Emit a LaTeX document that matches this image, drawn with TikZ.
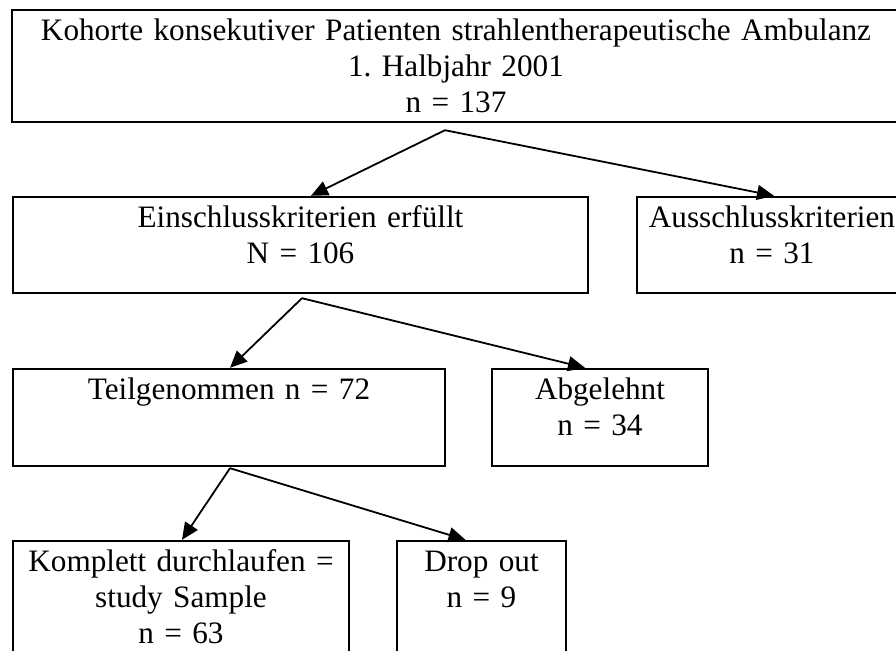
\documentclass[tikz,border=0pt]{standalone}
\usepackage{fontspec}
\setmainfont{Liberation Serif}
\usetikzlibrary{arrows.meta}
\tikzset{
    objBox/.style={rectangle, draw=black, line width=1.2pt, inner sep=0pt, text centered, align=center, text height=15pt},
    arrow/.style={line width=0.9pt, -{Triangle[length=8.5pt, width=7.5pt]}}
}
\begin{document}
\begin{tikzpicture}[node distance=88pt, font=\fontsize{15.6pt}{18pt}\selectfont]
    \useasboundingbox (-228pt,-292pt) rectangle (220pt,33pt);
    \clip (-228pt,-292pt) rectangle (220pt,33pt);

    \node (top) [objBox, text width=444pt, text depth=41pt] {Kohorte konsekutiver Patienten strahlentherapeutische Ambulanz\\ 1.\ Halbjahr 2001\\ n = 137};

    \node (ein) [objBox, text width=287.5pt, text depth=33pt, below of=top, xshift=-77.75pt, yshift=-1.5pt] {Einschlusskriterien erfüllt\\ N = 106};
    \node (aus) [objBox, text width=135pt, text depth=33pt, right of=ein, xshift=147.75pt] {Ausschlusskriterien\\ n = 31};

    \node (teil) [objBox, text width=216pt, text depth=33.5pt, below of=ein, xshift=-35.75pt, yshift=1.75pt] {Teilgenommen n = 72};
    \node (abg) [objBox, text width=108pt, text depth=33.5pt, right of=teil, xshift=97.5pt] {Abgelehnt\\ n = 34};

    \node (kom) [objBox, text width=168pt, text depth=44.5pt, below of=teil, xshift=-24pt, yshift=-3.5pt] {Komplett durchlaufen =\\ study Sample\\ n = 63};
    \node (drop) [objBox, text width=84.5pt, text depth=44.5pt, right of=kom, xshift=62.25pt] {Drop out\\ n = 9};

    \coordinate (topOut) at ([xshift=-5.5pt, yshift=-3.5pt]top.south);
    \coordinate (einOut) at ([xshift=0.75pt, yshift=-2pt]ein.south);
    \coordinate (teilOut) at ([xshift=0.5pt, yshift=-0.5pt]teil.south);

    \draw[arrow] (topOut) -- ([xshift=5.25pt]ein.north);
    \draw[arrow] (topOut) -- ([xshift=1pt]aus.north);

    \draw[arrow] (einOut) -- ([xshift=0.5pt]teil.north);
    \draw[arrow] (einOut) -- ([xshift=-7.5pt]abg.north);

    \draw[arrow] (teilOut) -- ([xshift=0.5pt]kom.north);
    \draw[arrow] (teilOut) -- ([xshift=-8pt]drop.north);

\end{tikzpicture}
\end{document}
